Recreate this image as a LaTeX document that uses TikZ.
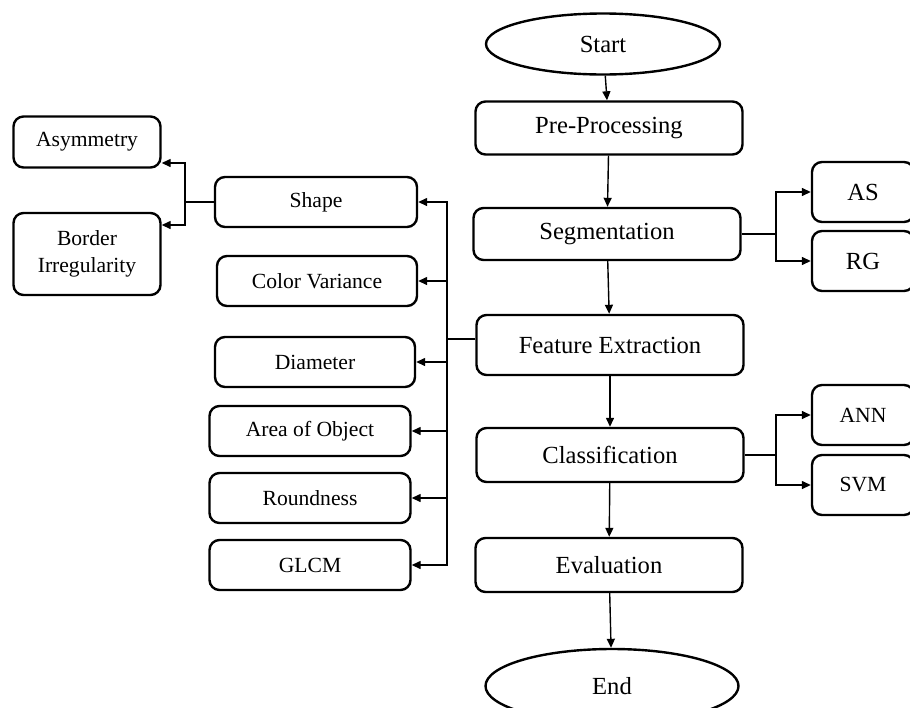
\documentclass[tikz,border=0pt]{standalone}
\usepackage{fontspec}
\setmainfont{Liberation Serif}
\usetikzlibrary{shapes.geometric,arrows.meta}

\tikzset{
  stage/.style={draw,rounded corners=5pt,line width=1.2pt,inner sep=0pt,
    minimum width=133.5pt,font=\fontsize{12.3}{14}\selectfont},
  term/.style={draw,ellipse,line width=1.2pt,inner sep=0pt,
    font=\fontsize{12.3}{14}\selectfont},
  feat/.style={draw,rounded corners=5pt,line width=1.2pt,inner sep=0pt,
    minimum width=100pt,minimum height=25pt,font=\fontsize{10.8}{13.5}\selectfont},
  meth/.style={draw,rounded corners=5pt,line width=1.2pt,inner sep=0pt,
    minimum width=51pt,minimum height=30pt},
  link/.style={line width=0.7pt},
  arr/.style={link,-{Triangle[length=4.5pt,width=4pt]}}
}

\begin{document}
\begin{tikzpicture}[x=0.5pt,y=-0.5pt]
\useasboundingbox (0,0) rectangle (910,707);
\clip (0,0) rectangle (910,707);
            % Main flow
\node[term,minimum width=117pt,minimum height=30.5pt] (start) at (603,44) {Start};
\node[stage,minimum height=26.5pt] (pre) at (609,128) {Pre-Processing};
\node[stage,minimum height=26pt]   (seg) at (607,234) {Segmentation};
\node[stage,minimum height=30pt]   (fex) at (610,345) {Feature Extraction};
\node[stage,minimum height=27pt]   (cls) at (610,455) {Classification};
\node[stage,minimum height=27pt]   (eva) at (609,565) {Evaluation};
\node[term,minimum width=126.5pt,minimum height=37pt] (end) at (612,686) {End};
            % Methods
\node[meth,font=\fontsize{12.3}{14}\selectfont] (as)  at (863,192) {AS};
\node[meth,font=\fontsize{12.3}{14}\selectfont] (rg)  at (863,261) {RG};
\node[meth,font=\fontsize{10.8}{13}\selectfont] (ann) at (863,415) {ANN};
\node[meth,font=\fontsize{10.8}{13}\selectfont] (svm) at (863,485) {SVM};
            % Features
\node[feat,minimum width=101pt] (shp)  at (316,202) {Shape};
\node[feat]                     (col)  at (317,281) {Color Variance};
\node[feat]                     (dia)  at (315,362) {Diameter};
\node[feat,minimum width=100.5pt] (area) at (310,431) {Area of Object};
\node[feat,minimum width=100.5pt] (rnd)  at (310,498) {Roundness};
\node[feat,minimum width=100.5pt] (glcm) at (310,565) {GLCM};
\node[feat,minimum width=73.5pt,minimum height=25.5pt] (asym) at (87,142) {Asymmetry};
\node[feat,minimum width=73.5pt,minimum height=41pt,align=center] (bord) at (87,254) {Border\\Irregularity};
%Branch points
\coordinate (segb) at (776,234);
\coordinate (clsb) at (776,455);
\coordinate (bus)  at (447,339);
\coordinate (shpb) at (185,202);
%Flow
\draw[arr] (start) -- (pre);
\draw[arr] (pre) -- (seg);
\draw[arr] (seg) -- (fex);
\draw[arr] (fex) -- (cls);
\draw[arr] (cls) -- (eva);
\draw[arr] (eva) -- (end);
%Segmentation methods
\draw[link] (seg.east) -- (segb);
\draw[arr] (segb) |- (as.west);
\draw[arr] (segb) |- (rg.west);
%Classification methods
\draw[link] (cls.east) -- (clsb);
\draw[arr] (clsb) |- (ann.west);
\draw[arr] (clsb) |- (svm.west);
%Feature bus
\draw[line width=1.3pt] ([yshift=3pt]fex.west) -- (bus);
\draw[arr] (bus) |- (shp.east);
\draw[arr] (bus) |- (col.east);
\draw[arr] (bus) |- (dia.east);
\draw[arr] (bus) |- (area.east);
\draw[arr] (bus) |- (rnd.east);
\draw[arr] (bus) |- (glcm.east);
%Shape split
\draw[link] (shp.west) -- (shpb);
\draw[arr] (shpb) |- ([yshift=-10.5pt]asym.east);
\draw[arr] (shpb) |- ([yshift=14.5pt]bord.east);
\end{tikzpicture}
\end{document}
